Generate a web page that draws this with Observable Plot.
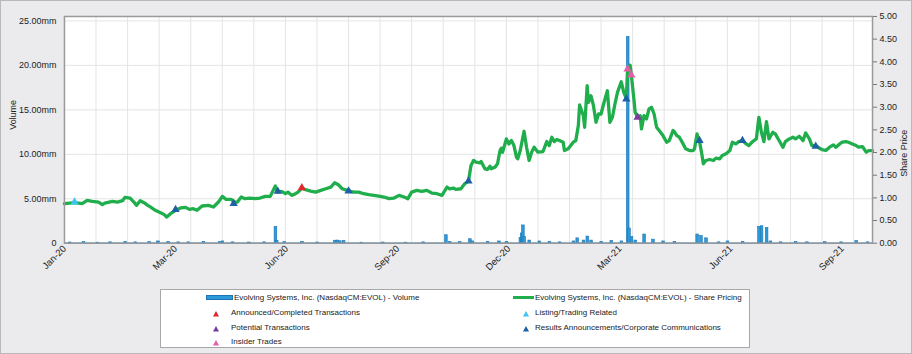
<!DOCTYPE html>
<html><head><meta charset="utf-8">
<script src="https://cdn.jsdelivr.net/npm/d3@7"></script>
<script src="https://cdn.jsdelivr.net/npm/@observablehq/plot@0.6"></script>
<style>
html,body{margin:0;padding:0;background:#fff;}
#wrap{position:relative;width:912px;height:354px;background:#ebebed;border:1px solid #b9b9b9;box-sizing:border-box;font-family:"Liberation Sans",Arial,sans-serif;overflow:hidden;}
#chart{position:absolute;left:-1px;top:-1px;}
#legend{position:absolute;left:159px;top:288px;width:590px;height:59px;background:#fff;border:1px solid #a8a8a8;box-sizing:border-box;font-size:8px;color:#222;}
.item{position:absolute;white-space:nowrap;line-height:10px;height:10px;}
</style></head>
<body><div id="wrap"><div id="chart"></div><div id="legend"></div></div>
<script>
// ---- data ----
const priceDates = [
"2020-01-02","2020-01-06","2020-01-10","2020-01-16","2020-01-20","2020-01-24","2020-01-29","2020-02-01","2020-02-03","2020-02-09",
"2020-02-13","2020-02-17","2020-02-19","2020-02-23","2020-02-26","2020-02-28","2020-03-02","2020-03-05","2020-03-08","2020-03-10",
"2020-03-14","2020-03-18","2020-03-21","2020-03-23","2020-03-26","2020-03-30","2020-04-03","2020-04-07","2020-04-10","2020-04-13",
"2020-04-16","2020-04-20","2020-04-25","2020-04-29","2020-05-03","2020-05-06","2020-05-09","2020-05-13","2020-05-16","2020-05-18",
"2020-05-21","2020-05-24","2020-05-28","2020-06-01","2020-06-05","2020-06-09","2020-06-13","2020-06-17","2020-06-19","2020-06-22",
"2020-06-25","2020-06-27","2020-06-30","2020-07-03","2020-07-05","2020-07-08","2020-07-11","2020-07-15","2020-07-19","2020-07-23",
"2020-07-27","2020-07-31","2020-08-03","2020-08-06","2020-08-09","2020-08-13","2020-08-15","2020-08-18","2020-08-22","2020-08-26",
"2020-08-30","2020-09-03","2020-09-07","2020-09-11","2020-09-15","2020-09-19","2020-09-23","2020-09-27","2020-09-30","2020-10-03",
"2020-10-07","2020-10-11","2020-10-15","2020-10-19","2020-10-23","2020-10-27","2020-10-31","2020-11-02","2020-11-05","2020-11-07",
"2020-11-11","2020-11-14","2020-11-17","2020-11-19","2020-11-21","2020-11-23","2020-11-26","2020-11-27","2020-11-30","2020-12-02",
"2020-12-04","2020-12-05","2020-12-08","2020-12-10","2020-12-12","2020-12-13","2020-12-14","2020-12-17","2020-12-19","2020-12-21",
"2020-12-23","2020-12-25","2020-12-26","2020-12-28","2020-12-31","2021-01-02","2021-01-04","2021-01-06","2021-01-08","2021-01-11",
"2021-01-15","2021-01-18","2021-01-20","2021-01-22","2021-01-24","2021-01-26","2021-01-28","2021-01-31","2021-02-01","2021-02-04",
"2021-02-08","2021-02-10","2021-02-12","2021-02-13","2021-02-16","2021-02-17","2021-02-19","2021-02-20","2021-02-22","2021-02-24",
"2021-02-26","2021-02-28","2021-03-02","2021-03-04","2021-03-07","2021-03-09","2021-03-11","2021-03-13","2021-03-15","2021-03-18",
"2021-03-20","2021-03-22","2021-03-23","2021-03-25","2021-03-26","2021-03-28","2021-03-29","2021-03-31","2021-04-02","2021-04-03",
"2021-04-05","2021-04-07","2021-04-09","2021-04-11","2021-04-13","2021-04-15","2021-04-17","2021-04-20","2021-04-23","2021-04-25",
"2021-04-28","2021-04-29","2021-05-01","2021-05-03","2021-05-06","2021-05-08","2021-05-11","2021-05-14","2021-05-15","2021-05-17",
"2021-05-18","2021-05-19","2021-05-21","2021-05-22","2021-05-24","2021-05-27","2021-05-30","2021-06-01","2021-06-04","2021-06-06",
"2021-06-09","2021-06-12","2021-06-14","2021-06-17","2021-06-19","2021-06-22","2021-06-25","2021-06-27","2021-06-30","2021-07-03",
"2021-07-05","2021-07-07","2021-07-09","2021-07-11","2021-07-13","2021-07-16","2021-07-18","2021-07-21","2021-07-24","2021-07-26",
"2021-07-29","2021-08-01","2021-08-03","2021-08-06","2021-08-09","2021-08-11","2021-08-14","2021-08-16","2021-08-19","2021-08-22",
"2021-08-24","2021-08-27","2021-08-30","2021-09-02","2021-09-04","2021-09-07","2021-09-09","2021-09-12","2021-09-14","2021-09-17",
"2021-09-20","2021-09-22","2021-09-25","2021-09-28","2021-09-30","2021-10-03"
];
const prices = [
0.872,0.886,0.894,0.872,0.945,0.923,0.908,0.850,0.886,0.923,
0.908,0.938,1.011,0.996,0.908,0.835,0.938,0.894,0.835,0.799,
0.725,0.674,0.630,0.579,0.652,0.725,0.777,0.791,0.747,0.762,
0.725,0.821,0.835,0.799,0.908,1.033,0.967,0.967,0.908,0.908,
1.018,0.982,0.996,0.982,0.996,1.033,1.033,1.260,1.128,1.143,
1.092,1.128,1.055,1.092,1.128,1.216,1.180,1.150,1.128,1.165,
1.201,1.238,1.333,1.289,1.201,1.165,1.150,1.128,1.128,1.092,
1.070,1.055,1.040,1.018,0.982,0.996,1.055,1.018,0.982,1.128,
1.165,1.143,1.165,1.106,1.092,1.055,1.238,1.201,1.216,1.187,
1.201,1.311,1.370,1.714,1.824,1.788,1.773,1.802,1.641,1.626,
1.700,1.641,1.678,1.751,2.044,2.095,2.007,2.300,2.190,2.264,
2.154,1.897,1.861,2.044,2.469,2.117,1.824,2.007,2.117,2.007,
2.022,2.242,2.154,2.337,2.242,2.286,2.264,2.227,2.044,2.081,
2.227,2.264,2.593,3.048,2.813,2.557,3.473,3.106,3.253,3.033,
2.667,2.850,2.850,3.070,3.363,2.667,2.777,3.070,3.326,3.560,
3.326,3.194,3.839,3.927,3.707,3.180,2.886,2.777,2.813,2.520,
2.813,2.740,2.960,2.996,2.850,2.557,2.484,2.374,2.227,2.264,
2.484,2.462,2.374,2.337,2.190,2.081,2.044,2.044,2.081,2.410,
2.300,2.242,1.934,1.751,1.824,1.846,1.824,1.876,1.861,1.934,
1.971,2.044,2.227,2.190,2.242,2.264,2.190,2.154,2.242,2.300,
2.777,2.447,2.242,2.681,2.300,2.447,2.410,2.264,2.117,2.242,
2.300,2.337,2.300,2.359,2.264,2.432,2.300,2.154,2.154,2.095,
2.066,2.044,2.117,2.169,2.117,2.190,2.227,2.242,2.227,2.190,
2.154,2.117,2.132,2.007,2.044,2.044
];
const volDates = [
"2020-01-06","2020-01-17","2020-01-28","2020-02-07","2020-02-19","2020-02-27","2020-03-09","2020-03-16","2020-03-24","2020-04-01",
"2020-04-09","2020-04-21","2020-05-04","2020-05-06","2020-05-14","2020-05-27","2020-06-08","2020-06-17","2020-06-18","2020-06-24",
"2020-07-08","2020-07-20","2020-08-03","2020-08-05","2020-08-07","2020-08-10","2020-08-24","2020-09-10","2020-09-28","2020-10-12",
"2020-10-30","2020-11-02","2020-11-10","2020-11-18","2020-11-20","2020-12-02","2020-12-11","2020-12-17","2020-12-28","2020-12-29",
"2020-12-30","2020-12-31","2021-01-04","2021-01-12","2021-01-20","2021-01-28","2021-02-08","2021-02-11","2021-02-16","2021-02-19",
"2021-02-22","2021-03-02","2021-03-10","2021-03-18","2021-03-23","2021-03-24","2021-03-26","2021-03-29","2021-04-05","2021-04-12",
"2021-04-20","2021-04-29","2021-05-17","2021-05-20","2021-05-24","2021-06-03","2021-06-10","2021-06-22","2021-07-05","2021-07-07",
"2021-07-11","2021-07-14","2021-07-22","2021-08-03","2021-08-12","2021-08-26","2021-09-08","2021-09-20","2021-09-29"
];
const volumes = [
0.08,0.12,0.06,0.10,0.15,0.10,0.12,0.20,0.15,0.10,
0.10,0.15,0.12,0.20,0.10,0.08,0.10,1.83,0.25,0.12,
0.15,0.08,0.28,0.30,0.22,0.25,0.06,0.08,0.06,0.10,
0.90,0.15,0.12,0.45,0.20,0.15,0.20,0.15,0.60,1.10,
2.00,0.70,0.30,0.20,0.15,0.10,0.20,0.55,0.30,0.75,
0.30,0.15,0.25,0.20,23.20,1.65,0.70,0.30,0.98,0.40,
0.20,0.15,0.98,0.80,0.55,0.10,0.20,0.15,1.83,1.91,
1.72,0.20,0.10,0.15,0.10,0.12,0.10,0.25,0.10
];
const eventDates = ["2020-01-10","2020-03-30","2020-05-15","2020-06-19","2020-07-08","2020-08-14","2020-11-17","2021-03-22","2021-03-23","2021-03-26","2021-03-31","2021-05-19","2021-06-22","2021-08-19"];
const eventPrices = [0.908,0.740,0.872,1.143,1.223,1.150,1.370,3.180,3.839,3.707,2.777,2.264,2.264,2.139];
const eventTypes = ["listing","results","results","results","announced","results","results","results","insider","insider","potential","results","results","results"];
const tickDates = ["2020-01-02","2020-03-30","2020-06-26","2020-09-22","2020-12-19","2021-03-17","2021-06-13","2021-09-09"];
const volTicks = [0,5,10,15,20,25];
const priceTicks = [0,0.5,1,1.5,2,2.5,3,3.5,4,4.5,5];
const legendLabels = {
  volume: "Evolving Systems, Inc. (NasdaqCM:EVOL) - Volume",
  price: "Evolving Systems, Inc. (NasdaqCM:EVOL) - Share Pricing",
  announced: "Announced/Completed Transactions",
  listing: "Listing/Trading Related",
  potential: "Potential Transactions",
  results: "Results Announcements/Corporate Communications",
  insider: "Insider Trades"
};
const colors = {announced:"#e4262d", listing:"#3cc3ee", potential:"#7a3d9d", results:"#1e5fa8", insider:"#e35fa6"};

// ---- build ----
const parse = d3.utcParse("%Y-%m-%d");
const K = 25.5 / 5;
const priceData = priceDates.map((d, i) => ({date: parse(d), price: prices[i]}));
const volData = volDates.map((d, i) => ({date: parse(d), vol: volumes[i]}));
const events = eventDates.map((d, i) => ({date: parse(d), price: eventPrices[i], type: eventTypes[i]}));
const start = parse("2020-01-02"), end = parse("2021-10-03");
const gridDates = d3.range(1, 26).map(i => d3.utcDay.offset(start, 25 * i));

const plot = Plot.plot({
  width: 912, height: 286,
  marginLeft: 64, marginRight: 39, marginTop: 16, marginBottom: 43,
  style: {background: "transparent", fontFamily: "'Liberation Sans', Arial, sans-serif", fontSize: "9px", color: "#222"},
  x: {type: "utc", domain: [start, end]},
  y: {domain: [0, 25.5]},
  marks: [
    Plot.frame({fill: "white"}),
    Plot.ruleX(gridDates, {stroke: "#e4e4e4", strokeWidth: 1}),
    Plot.ruleY(volTicks.filter(v => v > 0), {stroke: "#e4e4e4", strokeWidth: 1}),
    Plot.rectY(volData, {x: "date", y: "vol", interval: d3.utcDay, fill: "#2b9ad8", stroke: "#1f74b6", strokeWidth: 0.6, insetLeft: -0.7, insetRight: -0.7}),
    Plot.ruleY([0], {stroke: "#3a90cf", strokeWidth: 1.4}),
    Plot.line(priceData, {x: "date", y: d => d.price * K, stroke: "#1fae4b", strokeWidth: 3.3, strokeLinejoin: "round", strokeLinecap: "round"}),
    Plot.dot(events, {x: "date", y: d => d.price * K, symbol: "triangle", r: 3.1, fill: d => colors[d.type], stroke: "none"}),
    Plot.frame({stroke: "#9a9a9a", strokeWidth: 1.5}),
    Plot.axisY(volTicks, {anchor: "left", tickSize: 0, tickPadding: 8, tickFormat: v => v === 0 ? "0" : v.toFixed(2) + "mm", label: null}),
    Plot.axisY(priceTicks.map(p => p * K), {anchor: "right", tickSize: 4, tickPadding: 3, tickFormat: v => (v / K).toFixed(2), label: null, stroke: "#777"}),
    Plot.axisX(tickDates.map(parse), {anchor: "bottom", tickSize: 0, tickPadding: 4, tickRotate: -45, tickFormat: d3.utcFormat("%b-%y"), label: null, fontSize: 9.5}),
    Plot.text(["Volume"], {text: d => d, frameAnchor: "left", dx: -51, rotate: -90, fontSize: 9, fill: "#222"}),
    Plot.text(["Share Price"], {text: d => d, frameAnchor: "right", dx: 32, rotate: -90, fontSize: 9, fill: "#222"})
  ]
});
document.getElementById("chart").appendChild(plot);

// ---- legend ----
const lg = document.getElementById("legend");
function tri(color) {
  return `<svg width="8" height="7" style="position:absolute;left:0;top:1.5px"><polygon points="4,1 7,6.5 1,6.5" fill="${color}"/></svg>`;
}
const items = [
  {x: 45, y: 3, sw: `<div style="position:absolute;left:0;top:2px;width:27px;height:5px;background:#2b9ad8;border:1px solid #1f74b6;box-sizing:border-box"></div>`, tx: 28, label: legendLabels.volume},
  {x: 352, y: 3, sw: `<div style="position:absolute;left:0;top:3px;width:21px;height:3px;background:#1fae4b"></div>`, tx: 22, label: legendLabels.price},
  {x: 51, y: 18, sw: tri(colors.announced), tx: 19, label: legendLabels.announced},
  {x: 361, y: 18, sw: tri(colors.listing), tx: 13, label: legendLabels.listing},
  {x: 51, y: 33, sw: tri(colors.potential), tx: 19, label: legendLabels.potential},
  {x: 361, y: 33, sw: tri(colors.results), tx: 13, label: legendLabels.results},
  {x: 51, y: 47, sw: tri(colors.insider), tx: 19, label: legendLabels.insider}
];
for (const it of items) {
  const el = document.createElement("div");
  el.className = "item";
  el.style.left = it.x + "px";
  el.style.top = it.y + "px";
  el.innerHTML = it.sw + `<span style="position:absolute;left:${it.tx}px;top:0">${it.label}</span>`;
  lg.appendChild(el);
}
</script>
</body></html>
